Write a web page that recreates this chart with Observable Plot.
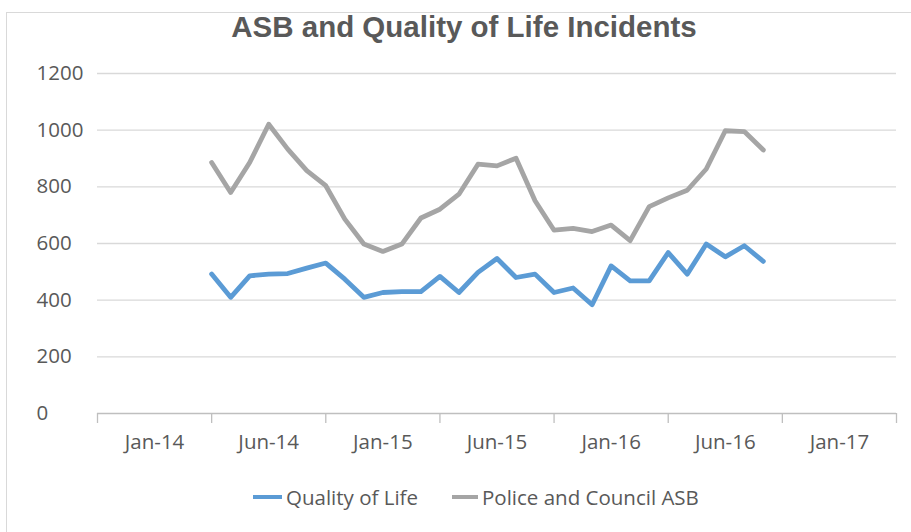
<!DOCTYPE html>
<html><head><meta charset="utf-8">
<script src="https://cdn.jsdelivr.net/npm/d3@7"></script>
<script src="https://cdn.jsdelivr.net/npm/@observablehq/plot@0.6"></script>
<style>
html,body{margin:0;padding:0;background:#fff;overflow:hidden}
#wrap{position:relative;width:911px;height:532px;overflow:hidden;font-family:"Open Sans",sans-serif;color:#595959;background:#fff}
#frame{position:absolute;left:6px;top:12px;width:1000px;height:1000px;border:1px solid #d9d9d9}
#title{position:absolute;left:0;top:13px;width:928px;text-align:center;font:bold 29.5px/28px "Liberation Sans",Arial,sans-serif;color:#595959}
#chart{position:absolute;left:0;top:0}
.leg{position:absolute;top:483px;height:28px;font-size:20.5px;line-height:28px;white-space:nowrap;color:#595959}
.sw{position:absolute;top:495px;height:4px}
</style></head><body>
<div id="wrap">
  <div id="frame"></div>
  <div id="chart"></div>
  <div id="title"></div>
</div>
<script>
// ---- data ----
const chartTitle = "ASB and Quality of Life Incidents";
const seriesNames = ["Quality of Life", "Police and Council ASB"];
const qualityOfLife = [492,410,486,492,494,513,531,474,410,427,430,430,484,427,498,547,480,492,427,443,384,521,468,468,568,492,598,553,592,537];
const policeCouncilASB = [886,780,886,1021,933,857,804,686,598,572,598,690,721,774,880,874,901,751,647,653,642,665,610,730,761,788,863,998,995,930];
const xTickLabels = ["Jan-14","Jun-14","Jan-15","Jun-15","Jan-16","Jun-16","Jan-17"];
const yTicks = [0,200,400,600,800,1000,1200];

// ---- build ----
const colors = ["#5b9bd5", "#a5a5a5"];
const rows = [];
[qualityOfLife, policeCouncilASB].forEach((arr, s) => {
  arr.forEach((v, i) => rows.push({series: seriesNames[s], i, value: v}));
});
const labelPos = xTickLabels.map((_, k) => -3 + 6 * k);
const tickPos = d3.range(xTickLabels.length + 1).map(k => -6 + 6 * k);
const labelMap = new Map(labelPos.map((p, k) => [p, xTickLabels[k]]));

const chart = Plot.plot({
  width: 911,
  height: 532,
  marginLeft: 97,
  marginRight: 15,
  marginTop: 73,
  marginBottom: 119,
  style: {fontFamily: "'Open Sans', sans-serif", fontSize: "20.5px", color: "#595959", background: "transparent"},
  x: {domain: [-6, 36], axis: null, label: null},
  y: {domain: [0, 1200], axis: null, label: null},
  color: {domain: seriesNames, range: colors},
  marks: [
    Plot.ruleY(yTicks.filter(d => d > 0), {stroke: "#d9d9d9", strokeWidth: 1.3}),
    Plot.ruleY([0], {stroke: "#bfbfbf", strokeWidth: 1.3}),
    Plot.axisX({ticks: tickPos, tickSize: 10, text: null, label: null, stroke: "#bfbfbf", strokeWidth: 1.3}),
    Plot.axisX({ticks: labelPos, tickSize: 0, tickPadding: 21, label: null, tickFormat: d => labelMap.get(d), fill: "#595959", fontSize: 20.5}),
    Plot.axisY({ticks: yTicks, tickSize: 0, tickPadding: 0, label: null, textAnchor: "start", dx: -61, tickFormat: d => String(d), fill: "#595959", fontSize: 20.5}),
    Plot.line(rows, {x: "i", y: "value", z: "series", stroke: "series", strokeWidth: 4.8, strokeLinejoin: "round", strokeLinecap: "round"})
  ]
});
document.getElementById("chart").appendChild(chart);
document.getElementById("title").textContent = chartTitle;

// legend
const wrap = document.getElementById("wrap");
const legX = [{sw: 253, tx: 286}, {sw: 452, tx: 482}];
seriesNames.forEach((name, k) => {
  const sw = document.createElement("div");
  sw.className = "sw";
  sw.style.left = legX[k].sw + "px";
  sw.style.width = (legX[k].tx - legX[k].sw - 4) + "px";
  sw.style.background = colors[k];
  wrap.appendChild(sw);
  const t = document.createElement("div");
  t.className = "leg";
  t.style.left = legX[k].tx + "px";
  t.textContent = name;
  wrap.appendChild(t);
});
</script>
</body></html>
